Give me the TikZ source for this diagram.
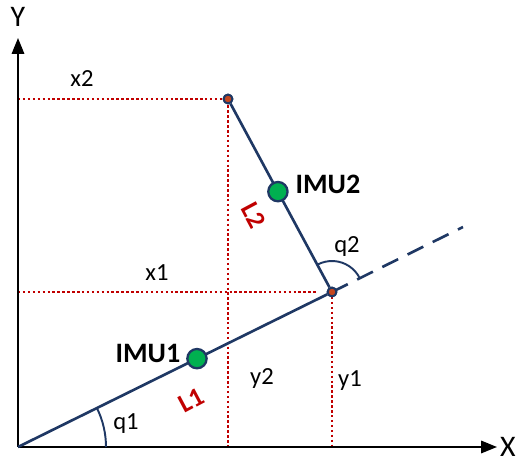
\documentclass[tikz,border=0pt]{standalone}
\usepackage{fontspec}
\setmainfont{Carlito}
\usetikzlibrary{calc, positioning, arrows.meta}
\definecolor{navy}{RGB}{31,56,100}
\definecolor{darkred}{RGB}{192,0,0}
\definecolor{imugreen}{RGB}{0,176,80}
\definecolor{jointred}{RGB}{197,70,30}

\begin{document}
\begin{tikzpicture}[thick, >={Triangle[length=9pt, width=7pt]}]
        \useasboundingbox (-0.36,-0.26) rectangle (10.02,8.94);
        \tikzset{
            link/.style={draw=navy, line width=1.5pt},
            guide/.style={draw=darkred, line width=1.4pt, dash pattern=on 1.4pt off 1.4pt},
            imu/.style={draw=navy, fill=imugreen, circle, line width=1.3pt, minimum size=11pt, inner sep=0pt},
            joint/.style={draw=navy, fill=jointred, circle, line width=1.1pt, minimum size=5pt, inner sep=0pt},
            lbl/.style={font=\fontsize{14}{16}\selectfont},
            linklbl/.style={font=\fontsize{15}{17}\selectfont\bfseries, text=darkred}
        }
        \coordinate (origin) at (0,0);
        \coordinate (xend) at (9.58,0);
        \coordinate (yend) at (0,8.18);
        \coordinate (ext) at (8.90,4.40);
        \coordinate (x2left) at (0,6.96);
        \coordinate (x1left) at (0,3.10);
        \coordinate (x1right) at (6.00,3.10);
        \coordinate (y2foot) at (4.20,0);
        \coordinate (y1foot) at (6.28,0);

        % dotted projections
        \draw[guide] (x2left) -- (4.20,6.96) -- (y2foot);
        \draw[guide] (x1left) -- (x1right);
        \draw[guide] (6.28,3.10) -- (y1foot);

        % axes
        \draw[->, line width=1.2pt] (origin) -- (xend);
        \draw[->, line width=1.2pt] (origin) -- (yend);
        \node[font=\fontsize{17}{19}\selectfont, inner sep=1pt] (xlabel) at (9.80,0) {X};
        \node[font=\fontsize{17}{19}\selectfont] (ylabel) at (0,8.60) {Y};

        % links
        \node[joint] (knee) at (6.28,3.10) {};
        \node[joint] (tip) at (4.20,6.96) {};
        \draw[link, dash pattern=on 10pt off 6pt] (knee.center) -- (ext);
        \draw[link] (origin) -- (knee);
        \draw[link] (knee) -- (tip);
        \node[joint] at (knee) {};
        \node[joint] at (tip) {};

        % sensors
        \node[imu] (imu1) at ($(origin)!0.57!(knee.center)$) {};
        \node[imu] (imu2) at ($(knee.center)!0.52!(tip.center)$) {};
        \node[font=\fontsize{16}{18}\selectfont\bfseries] (imu1lbl) at (2.60,1.88) {IMU1};
        \node[font=\fontsize{16}{18}\selectfont\bfseries] (imu2lbl) at (6.20,5.26) {IMU2};
        \node[linklbl, rotate=28, inner sep=0pt] (l1) at (3.46,0.94) {L1};
        \node[linklbl, rotate=-62, inner sep=0pt] (l2) at (4.72,4.64) {L2};

        % angles
        \draw[draw=navy, line width=1.1pt] (1.76,0) arc[start angle=0, end angle=26.3, radius=1.76];
        \draw[draw=navy, line width=1.1pt] ($(knee.center)+(26.3:0.62)$) arc[start angle=26.3, end angle=118.2, radius=0.62];
        \node[lbl] (q1) at (2.16,0.46) {q1};
        \node[lbl] (q2) at (6.58,4.02) {q2};
        \node[lbl] (x2) at (1.28,7.36) {x2};
        \node[lbl] (x1) at (2.78,3.48) {x1};
        \node[lbl] (y2) at (4.88,1.36) {y2};
        \node[lbl] (y1) at (6.64,1.32) {y1};
    \end{tikzpicture}
\end{document}
